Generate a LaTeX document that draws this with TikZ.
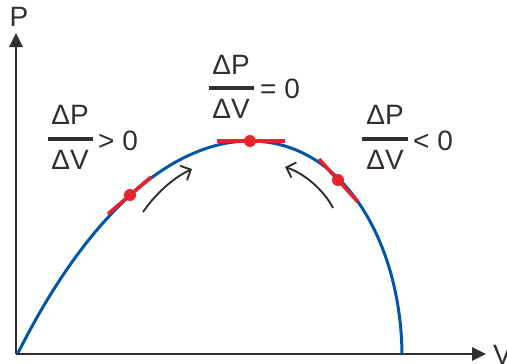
\documentclass[tikz,border=0pt]{standalone}
\usepackage{fontspec}
\setmainfont{Liberation Sans}
\usetikzlibrary{arrows.meta}
\definecolor{axisc}{HTML}{342E2C}
\definecolor{curvec}{HTML}{0057A8}
\definecolor{redc}{HTML}{E4232B}
\tikzset{
  axis/.style={draw=axisc, line width=2.6pt, -{Triangle[length=14pt,width=13pt]}},
  pvcurve/.style={draw=curvec, line width=3pt},
  tangent/.style={draw=redc, line width=3.6pt},
  rdot/.style={circle, fill=redc, inner sep=0pt, minimum size=12pt},
  motion/.style={draw=axisc, line width=1.9pt, -{Straight Barb[length=8pt,width=16pt]}},
  lbl/.style={text=axisc, font=\fontsize{28}{30}\selectfont, inner sep=0pt},
  fbar/.style={draw=axisc, line width=3.6pt},
}
\begin{document}
\begin{tikzpicture}[x=1pt,y=-1pt]
\useasboundingbox (0,0) rectangle (507,364);
% axes
\coordinate (O) at (16,354);
\coordinate (ytip) at (16,33);
\coordinate (xtip) at (486,354);
\draw[axis] (O) -- (ytip);
\draw[axis] (O) -- (xtip);
\node[lbl] (P) at (19,17) {P};
\node[lbl, anchor=west] (V) at (493,355) {V};
% curve
\coordinate (c0) at (18,353);
\coordinate (cpk) at (250,141);
\coordinate (c1) at (402,354);
\draw[pvcurve] (c0) .. controls (95,200) and (180,141) .. (cpk)
  .. controls (345,141) and (401,245) .. (c1);
% tangents
\coordinate (t1a) at (108,214); \coordinate (t1b) at (151,177);
\coordinate (t2a) at (217,141); \coordinate (t2b) at (285,141);
\coordinate (t3a) at (319,159); \coordinate (t3b) at (358,202);
\draw[tangent] (t1a) -- (t1b);
\draw[tangent] (t2a) -- (t2b);
\draw[tangent] (t3a) -- (t3b);
\node[rdot] (d1) at (130,195) {};
\node[rdot] (d2) at (250,141) {};
\node[rdot] (d3) at (338,180) {};
% motion arrows
\coordinate (m1a) at (143,212); \coordinate (m1b) at (192,169);
\coordinate (m2a) at (333,208); \coordinate (m2b) at (285,167);
\draw[motion] (m1a) .. controls (154,196) and (171,179) .. (m1b);
\draw[motion] (m2a) .. controls (325,192) and (306,174) .. (m2b);
% left fraction
\node[lbl] (lnum) at (70,115) {ΔP};
\node[lbl] (lden) at (70,160) {ΔV};
\coordinate (lba) at (48,139); \coordinate (lbb) at (93,139);
\draw[fbar] (lba) -- (lbb);
\node[lbl, anchor=west] (lrel) at (98,141) {> 0};
% middle fraction
\node[lbl] (mnum) at (231,65) {ΔP};
\node[lbl] (mden) at (231,109) {ΔV};
\coordinate (mba) at (209,88); \coordinate (mbb) at (254,88);
\draw[fbar] (mba) -- (mbb);
\node[lbl, anchor=west] (mrel) at (260,89) {= 0};
% right fraction
\node[lbl] (rnum) at (385,115) {ΔP};
\node[lbl] (rden) at (385,160) {ΔV};
\coordinate (rba) at (362,139); \coordinate (rbb) at (408,139);
\draw[fbar] (rba) -- (rbb);
\node[lbl, anchor=west] (rrel) at (413,141) {< 0};
\end{tikzpicture}
\end{document}
